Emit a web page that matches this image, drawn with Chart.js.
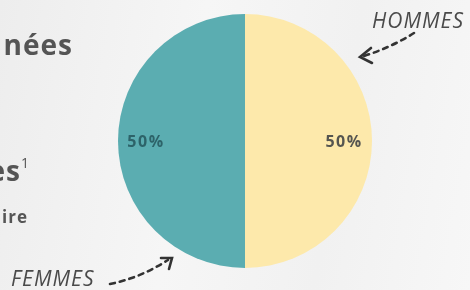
<!DOCTYPE html>
<html>
<head>
<meta charset="utf-8">
<script src="https://cdn.jsdelivr.net/npm/chart.js@4"></script>
<style>
  body { margin: 0; }
  #wrap {
    position: relative; width: 470px; height: 290px; overflow: hidden;
    background: linear-gradient(100deg, #ededed 0%, #f6f6f6 40%, #f1f1f1 70%, #f7f7f7 100%);
    font-family: "Open Sans", "DejaVu Sans", sans-serif; color: #555;
  }
  #chart { position: absolute; left: 0; top: 0; }
  .side { position: absolute; font-weight: bold; white-space: nowrap; letter-spacing: 1px; }
  .tag { position: absolute; font-style: italic; font-size: 21px; color: #4a4a4a; white-space: nowrap; letter-spacing: 1px; }
  svg { position: absolute; left: 0; top: 0; }
</style>
</head>
<body>
<div id="wrap">
  <canvas id="chart" width="470" height="290"></canvas>
  <div class="side" style="right:397px; top:25px; font-size:28px;">nées</div>
  <div class="side" style="right:440px; top:151px; font-size:28px;">es<sup style="font-size:14px; font-weight:normal; vertical-align:13px;">1</sup></div>
  <div class="side" style="right:442px; top:205px; font-size:17px;">ire</div>
  <div class="tag" id="tagH" style="left:372px; top:6px;">HOMMES</div>
  <div class="tag" id="tagF" style="left:11px; top:264px;">FEMMES</div>
  <svg width="470" height="290">
    <g stroke="#333" stroke-width="2.6" fill="none" stroke-linecap="round">
      <path d="M414 33 Q392 47 364 56" stroke-dasharray="5 5"/>
      <path d="M371 48 L360 57 L372 63"/>
      <path d="M110 284 Q140 278 168 260" stroke-dasharray="5 5"/>
      <path d="M161 258 L172 258 L169 269"/>
    </g>
  </svg>
</div>
<script>
// data
var groupes = ["HOMMES", "FEMMES"];
var parts = [50, 50];
var couleurs = ["#fde9ab", "#5badb1"];
var couleursTexte = ["#555550", "#2d6369"];

// percent labels drawn inside each slice
var pctLabels = {
  id: "pctLabels",
  afterDatasetsDraw: function(chart){
    var ctx = chart.ctx;
    var meta = chart.getDatasetMeta(0);
    meta.data.forEach(function(arc, i){
      var mid = (arc.startAngle + arc.endAngle) / 2;
      var r = arc.outerRadius * 0.78;
      var x = arc.x + Math.cos(mid) * r;
      var y = arc.y + Math.sin(mid) * r;
      ctx.save();
      ctx.font = "bold 16px 'Open Sans', sans-serif";
      ctx.letterSpacing = "1.5px";
      ctx.fillStyle = couleursTexte[i];
      ctx.textAlign = "center";
      ctx.textBaseline = "middle";
      ctx.fillText(parts[i] + "%", x, y + 1);
      ctx.restore();
    });
  }
};

var chart = new Chart("chart", {
  type: "pie",
  data: {
    labels: groupes,
    datasets: [{
      data: parts,
      backgroundColor: couleurs,
      borderWidth: 0
    }]
  },
  options: {
    responsive: false,
    animation: false,
    layout: { padding: { left: 20, right: 0, top: 14, bottom: 22 } },
    plugins: {
      legend: { display: false },
      tooltip: { enabled: false }
    }
  },
  plugins: [pctLabels]
});
</script>
</body>
</html>
